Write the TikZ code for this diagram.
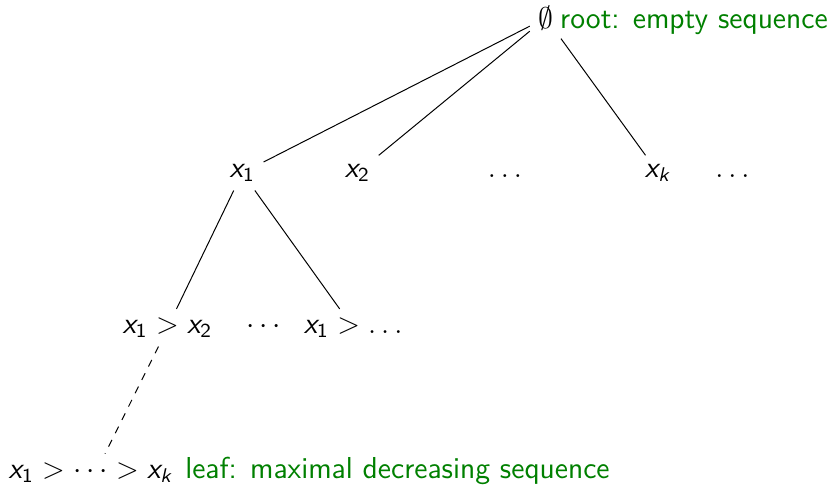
\documentclass[tikz,border=0pt]{standalone}
\usepackage{tikz}
\usetikzlibrary{positioning}
% sans serif letters in math, as on slides
\DeclareSymbolFont{sfit}{OT1}{cmss}{m}{it}
\DeclareSymbolFont{sfup}{OT1}{cmss}{m}{n}
\DeclareMathSymbol{x}{\mathalpha}{sfit}{`x}
\DeclareMathSymbol{k}{\mathalpha}{sfit}{`k}
\DeclareMathSymbol{1}{\mathord}{sfup}{`1}
\DeclareMathSymbol{2}{\mathord}{sfup}{`2}
\definecolor{notec}{rgb}{0,0.5,0}
\tikzset{
  seq/.style={font=\fontsize{12}{14}\selectfont, anchor=base},
  note/.style={font=\fontsize{12.2}{15}\selectfont\sffamily, text=notec, anchor=base west, inner sep=1pt},
  edge/.style={line width=0.4pt},
  dashedge/.style={edge, dashed},
}
\def\yR{6.53}
\def\yA{4.42}
\def\yB{2.21}
\def\yC{0.16}

\begin{document}
\begin{tikzpicture}
  \useasboundingbox (0,0) rectangle (11.78,6.93);
  \node[seq] (root) at (7.73,\yR) {$\emptyset$};
  \node[note] (rootnote) at ([xshift=-2pt]root.base east) {root: empty sequence};
  % first level
  \node[seq] (a1) at (3.43,\yA) {$x_1$};
  \node[seq] (a2) at (5.06,\yA) {$x_2$};
  \node[seq] (adots) at (7.15,\yA) {$\ldots$};
  \node[seq] (ak) at (9.32,\yA) {$x_k$};
  \node[seq] (amore) at (10.37,\yA) {$\ldots$};
  % second level
  \node[seq] (b12) at (2.37,\yB) {$x_1 > x_2$};
  \node[seq] (bdots) at (3.73,\yB) {$\cdots$};
  \node[seq] (b1) at (5.00,\yB) {$x_1 > \ldots$};
  % leaf
  \node[seq] (leaf) at (1.29,\yC) {$x_1 > \cdots > x_k$};
  \node[note] (leafnote) at (leaf.base east) {leaf: maximal decreasing sequence};
  \draw[edge] (root) -- (a1);
  \draw[edge] (root) -- (a2);
  \draw[edge] (root) -- (ak);
  \draw[edge] (a1) -- (b12);
  \draw[edge] (a1) -- (b1);
  \draw[dashedge] ([xshift=-3.6pt]b12.south) -- ([xshift=5.6pt]leaf.north);
\end{tikzpicture}
\end{document}
